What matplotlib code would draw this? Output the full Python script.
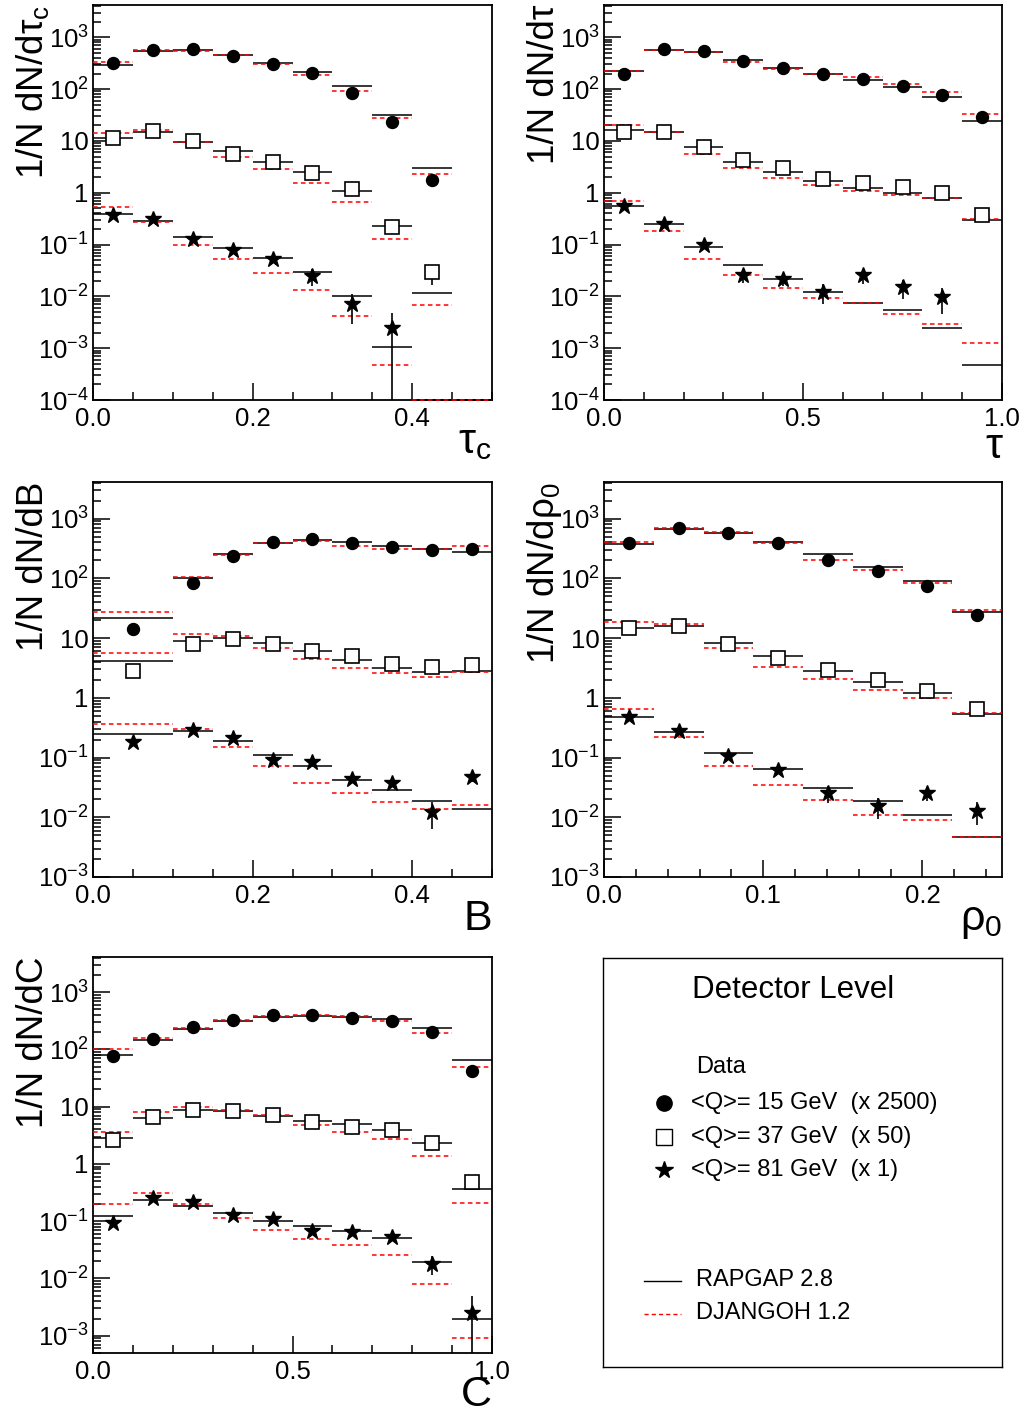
import numpy as np
import matplotlib.pyplot as plt
from matplotlib.ticker import FixedLocator, LogLocator, FuncFormatter, NullFormatter, MultipleLocator

plt.rcParams['font.family'] = ['Liberation Sans', 'DejaVu Sans']
plt.rcParams['mathtext.fontset'] = 'custom'
plt.rcParams['mathtext.rm'] = 'Liberation Sans'
plt.rcParams['mathtext.it'] = 'Liberation Sans:italic'
plt.rcParams['mathtext.bf'] = 'Liberation Sans:bold'

nan = np.nan

# ---- tau_c ----
tauc_edges = [0.0, 0.05, 0.1, 0.15, 0.2, 0.25, 0.3, 0.35, 0.4, 0.45, 0.5]
tauc_d15 = [319, 561, 596, 443, 305, 205, 82.8, 22.8, 1.78, nan]
tauc_d37 = [11.4, 15.5, 9.8, 5.66, 3.85, 2.43, 1.19, 0.223, 0.0289, nan]
tauc_d81 = [0.375, 0.305, 0.127, 0.079, 0.0515, 0.0249, 0.00716, 0.00243, nan, nan]
tauc_e15 = [0, 0, 0, 0, 0, 0, 3, 2, 0.5, 0]
tauc_e37 = [0, 0, 0, 0, 0, 0, 0.05, 0.02, 0.012, 0]
tauc_e81 = [0.02, 0.02, 0.01, 0.006, 0.004, 0.009, 0.0042, 0.0024, 0, 0]
tauc_r15 = [296, 537, 561, 456, 319, 214, 116, 32, 2.94, 0]
tauc_r37 = [11.4, 14.8, 9.5, 6.28, 3.96, 2.47, 1.09, 0.233, 0.0115, 0]
tauc_r81 = [0.386, 0.279, 0.143, 0.085, 0.0545, 0.0293, 0.0102, 0.00104, 0, 0]
tauc_j15 = [339, 561, 540, 456, 310, 185, 93, 28, 2.32, 0]
tauc_j37 = [14.0, 16.4, 9.4, 4.81, 2.82, 1.56, 0.668, 0.127, 0.00674, 0]
tauc_j81 = [0.536, 0.267, 0.0988, 0.0522, 0.0288, 0.0134, 0.0042, 0.000475, 0, 0]

# ---- tau ----
tau_edges = [0.0, 0.1, 0.2, 0.3, 0.4, 0.5, 0.6, 0.7, 0.8, 0.9, 1.0]
tau_d15 = [196, 596, 537, 349, 256, 193, 154, 115, 78, 29.3]
tau_d37 = [14.6, 14.8, 7.62, 4.27, 2.94, 1.83, 1.56, 1.27, 1.0, 0.376]
tau_d81 = [0.552, 0.248, 0.096, 0.0253, 0.0221, 0.0121, 0.0253, 0.0150, 0.0096, nan]
tau_e15 = [0, 0, 0, 0, 0, 0, 0, 0, 0, 0]
tau_e37 = [0, 0, 0, 0, 0, 0, 0, 0, 0, 0.05]
tau_e81 = [0.02, 0.01, 0.005, 0.007, 0.006, 0.005, 0.008, 0.006, 0.005, 0]
tau_r15 = [224, 578, 529, 371, 259, 193, 150, 108, 69, 24.2]
tau_r37 = [16.0, 15.1, 7.5, 3.85, 2.50, 1.65, 1.23, 0.99, 0.80, 0.301]
tau_r81 = [0.56, 0.248, 0.089, 0.0406, 0.0221, 0.0124, 0.00738, 0.00548, 0.0025, 0.000475]
tau_j15 = [227, 578, 521, 339, 248, 199, 174, 124, 89, 33]
tau_j37 = [20.0, 14.8, 5.66, 2.94, 1.95, 1.43, 1.06, 0.90, 0.78, 0.305]
tau_j81 = [0.70, 0.179, 0.0538, 0.0253, 0.0142, 0.0095, 0.00738, 0.00459, 0.00294, 0.00125]

# ---- B ----
b_edges = [0.0, 0.1, 0.15, 0.2, 0.25, 0.3, 0.35, 0.4, 0.45, 0.5]
b_d15 = [14.4, 84.9, 234, 406, 451, 392, 336, 303, 311]
b_d37 = [2.82, 7.87, 9.8, 7.98, 6.01, 5.08, 3.64, 3.28, 3.50]
b_d81 = [0.182, 0.286, 0.213, 0.0922, 0.0843, 0.0443, 0.0376, 0.0123, 0.0473]
b_e15 = [0, 0, 0, 0, 0, 0, 0, 0, 0]
b_e37 = [0, 0, 0, 0, 0, 0, 0, 0, 0]
b_e81 = [0.01, 0.02, 0.015, 0.008, 0.007, 0.005, 0.005, 0.006, 0.008]
b_r15 = [22.0, 103, 259, 392, 434, 406, 344, 307, 281]
b_r37 = [4.09, 8.95, 10.0, 8.29, 6.01, 4.25, 3.21, 2.67, 2.82]
b_r81 = [0.245, 0.275, 0.190, 0.109, 0.0714, 0.0428, 0.0290, 0.0188, 0.0140]
b_j15 = [27.4, 105, 250, 397, 423, 353, 315, 307, 344]
b_j37 = [5.71, 11.6, 11.0, 6.84, 4.42, 3.12, 2.61, 2.21, 2.67]
b_j81 = [0.370, 0.305, 0.150, 0.0714, 0.038, 0.0255, 0.0181, 0.0140, 0.0159]

# ---- rho_0 ----
rho_edges = [0.0, 0.03125, 0.0625, 0.09375, 0.125, 0.15625, 0.1875, 0.21875, 0.25]
rho_d15 = [397, 706, 583, 397, 206, 131, 74.6, 24.1]
rho_d37 = [14.6, 16.0, 7.88, 4.63, 2.96, 1.98, 1.28, 0.642]
rho_d81 = [0.479, 0.279, 0.105, 0.0628, 0.0255, 0.0152, 0.0255, 0.0128]
rho_e15 = [0, 0, 0, 0, 0, 0, 0, 0]
rho_e37 = [0, 0, 0, 0, 0, 0, 0, 0.05]
rho_e81 = [0.02, 0.015, 0.008, 0.005, 0.008, 0.006, 0.007, 0.0055]
rho_r15 = [377, 662, 568, 402, 253, 153, 89.3, 27.0]
rho_r37 = [14.7, 16.2, 8.30, 5.02, 2.86, 1.85, 1.21, 0.543]
rho_r81 = [0.479, 0.272, 0.118, 0.0653, 0.031, 0.0185, 0.0109, 0.00469]
rho_j15 = [412, 689, 590, 392, 206, 138, 84.9, 29.2]
rho_j37 = [18.4, 17.0, 6.84, 3.33, 2.07, 1.37, 1.01, 0.55]
rho_j81 = [0.643, 0.221, 0.0714, 0.0348, 0.0198, 0.0111, 0.0089, 0.00469]

# ---- C ----
c_edges = [0.0, 0.1, 0.2, 0.3, 0.4, 0.5, 0.6, 0.7, 0.8, 0.9, 1.0]
c_d15 = [75.2, 153, 244, 320, 391, 402, 347, 316, 200, 42.3]
c_d37 = [2.63, 6.73, 8.68, 8.33, 7.10, 5.35, 4.50, 3.94, 2.33, 0.479]
c_d81 = [0.092, 0.252, 0.220, 0.129, 0.108, 0.0685, 0.0658, 0.0524, 0.0179, 0.00246]
c_e15 = [0, 0, 0, 0, 0, 0, 0, 0, 0, 0]
c_e37 = [0, 0, 0, 0, 0, 0, 0, 0, 0, 0.05]
c_e81 = [0.008, 0.015, 0.012, 0.008, 0.007, 0.005, 0.005, 0.005, 0.0065, 0.0025]
c_r15 = [78.2, 147, 228, 307, 365, 376, 365, 333, 235, 64]
c_r37 = [2.85, 6.37, 8.68, 8.55, 6.91, 5.72, 5.01, 3.99, 2.36, 0.361]
c_r81 = [0.124, 0.236, 0.188, 0.138, 0.101, 0.0838, 0.0676, 0.0517, 0.0194, 0.00194]
c_j15 = [101, 157, 238, 324, 376, 391, 381, 316, 197, 50.2]
c_j37 = [3.58, 8.0, 10.0, 8.79, 7.10, 4.81, 3.58, 2.74, 1.40, 0.211]
c_j81 = [0.198, 0.316, 0.198, 0.112, 0.0695, 0.0483, 0.038, 0.0254, 0.0080, 0.000925]

W, H = 1026, 1410
fig = plt.figure(figsize=(W / 100, H / 100), dpi=100)


def px(x0, y0, x1, y1):
    return [x0 / W, 1 - y1 / H, (x1 - x0) / W, (y1 - y0) / H]


def logfmt(v, pos):
    e = int(round(np.log10(v)))
    if e == 0:
        return '1'
    if e == 1:
        return '10'
    return r'$\mathregular{10^{%d}}$' % e


def panel(box, edges, data, errs, rap, djg, ylim, xticks, xlabels, xminor, ylab, xlab,
          xlab_off=53):
    ax = fig.add_axes(px(*box))
    ax.set_yscale('log', nonpositive='clip')
    edges = np.array(edges)
    centers = 0.5 * (edges[1:] + edges[:-1])
    for r, j in zip(rap, djg):
        # empty model bins sit on the lower frame, as in the original
        r = np.clip(np.array(r, float), ylim[0], None)
        j = np.clip(np.array(j, float), ylim[0], None)
        ax.hlines(r, edges[:-1], edges[1:], colors='black', lw=1.1, zorder=3,
                  clip_on=False)
        ax.hlines(j, edges[:-1], edges[1:], colors='red', lw=1.1,
                  linestyles=(0, (3, 2.2)), zorder=3, clip_on=False)
    styles = [dict(marker='o', ms=8.6, mfc='black', mec='black'),
              dict(marker='s', ms=9.5, mfc='white', mec='black', mew=1.2),
              dict(marker='*', ms=12, mfc='black', mec='black')]
    for d, e, st in zip(data, errs, styles):
        ax.errorbar(centers, d, yerr=e, ls='none', ecolor='black', elinewidth=1.2,
                    capsize=0, zorder=4, **st)
    ax.set_xlim(edges[0], edges[-1])
    ax.set_ylim(*ylim)
    ax.yaxis.set_major_locator(LogLocator(base=10, numticks=20))
    ax.yaxis.set_minor_locator(LogLocator(base=10, subs=np.arange(2, 10), numticks=20))
    ax.yaxis.set_major_formatter(FuncFormatter(logfmt))
    ax.yaxis.set_minor_formatter(NullFormatter())
    ax.xaxis.set_major_locator(FixedLocator(xticks))
    ax.set_xticklabels(xlabels)
    ax.xaxis.set_minor_locator(MultipleLocator(xminor))
    ax.tick_params(which='both', direction='in', top=False, right=False, width=1.1)
    ax.tick_params(which='major', length=12, labelsize=18.5)
    ax.tick_params(which='minor', length=6)
    ax.tick_params(axis='x', pad=5)
    ax.tick_params(axis='y', pad=3)
    for s in ax.spines.values():
        s.set_linewidth(1.3)
    bw = box[2] - box[0]
    bh = box[3] - box[1]
    ax.text(-50 / bw, 1.0, ylab, transform=ax.transAxes, rotation=90,
            rotation_mode='anchor', ha='right', va='baseline', fontsize=26.5)
    ax.text(1.0, -xlab_off / bh, xlab, transform=ax.transAxes, ha='right',
            va='baseline', fontsize=31)
    return ax


panel((93, 5, 492, 400), tauc_edges,
      [tauc_d15, tauc_d37, tauc_d81], [tauc_e15, tauc_e37, tauc_e81],
      [tauc_r15, tauc_r37, tauc_r81], [tauc_j15, tauc_j37, tauc_j81],
      (1e-4, 4200), [0.0, 0.2, 0.4], ['0.0', '0.2', '0.4'], 0.05,
      '1/N dN/dτ$_\\mathregular{c}$', 'τ$_\\mathregular{c}$')

panel((604, 5, 1002, 400), tau_edges,
      [tau_d15, tau_d37, tau_d81], [tau_e15, tau_e37, tau_e81],
      [tau_r15, tau_r37, tau_r81], [tau_j15, tau_j37, tau_j81],
      (1e-4, 4200), [0.0, 0.5, 1.0], ['0.0', '0.5', '1.0'], 0.1,
      '1/N dN/dτ', 'τ', xlab_off=58)

panel((93, 482, 492, 877), b_edges,
      [b_d15, b_d37, b_d81], [b_e15, b_e37, b_e81],
      [b_r15, b_r37, b_r81], [b_j15, b_j37, b_j81],
      (1e-3, 4100), [0.0, 0.2, 0.4], ['0.0', '0.2', '0.4'], 0.05,
      '1/N dN/dB', 'B')

panel((604, 482, 1002, 877), rho_edges,
      [rho_d15, rho_d37, rho_d81], [rho_e15, rho_e37, rho_e81],
      [rho_r15, rho_r37, rho_r81], [rho_j15, rho_j37, rho_j81],
      (1e-3, 4100), [0.0, 0.1, 0.2], ['0.0', '0.1', '0.2'], 0.02,
      '1/N dN/dρ$_\\mathregular{0}$', 'ρ$_\\mathregular{0}$')

panel((93, 957, 492, 1353), c_edges,
      [c_d15, c_d37, c_d81], [c_e15, c_e37, c_e81],
      [c_r15, c_r37, c_r81], [c_j15, c_j37, c_j81],
      (5e-4, 4100), [0.0, 0.5, 1.0], ['0.0', '0.5', '1.0'], 0.1,
      '1/N dN/dC', 'C')

# legend box
lg = fig.add_axes(px(603, 958, 1002, 1367))
lg.set_xlim(603, 1002)
lg.set_ylim(1367, 958)
lg.set_xticks([])
lg.set_yticks([])
for s in lg.spines.values():
    s.set_linewidth(1.0)
lg.text(793, 990, 'Detector Level', ha='center', va='center', fontsize=22.5)
lg.text(696, 1067, 'Data', va='center', fontsize=17)
lg.plot([664], [1103], 'o', ms=11, color='black')
lg.plot([664], [1137], 's', ms=11, mfc='white', mec='black', mew=1.0)
lg.plot([664], [1170], '*', ms=13, color='black')
lg.text(691, 1103, '<Q>= 15 GeV  (x 2500)', va='center', fontsize=17)
lg.text(691, 1137, '<Q>= 37 GeV  (x 50)', va='center', fontsize=17)
lg.text(691, 1170, '<Q>= 81 GeV  (x 1)', va='center', fontsize=17)
lg.plot([644, 681], [1281, 1281], color='black', lw=1.0)
lg.plot([644, 681], [1314, 1314], color='red', lw=1.0, ls=(0, (3, 2.2)))
lg.text(696, 1280, 'RAPGAP 2.8', va='center', fontsize=17)
lg.text(696, 1313, 'DJANGOH 1.2', va='center', fontsize=17)

fig.savefig('out.png', dpi=100)
